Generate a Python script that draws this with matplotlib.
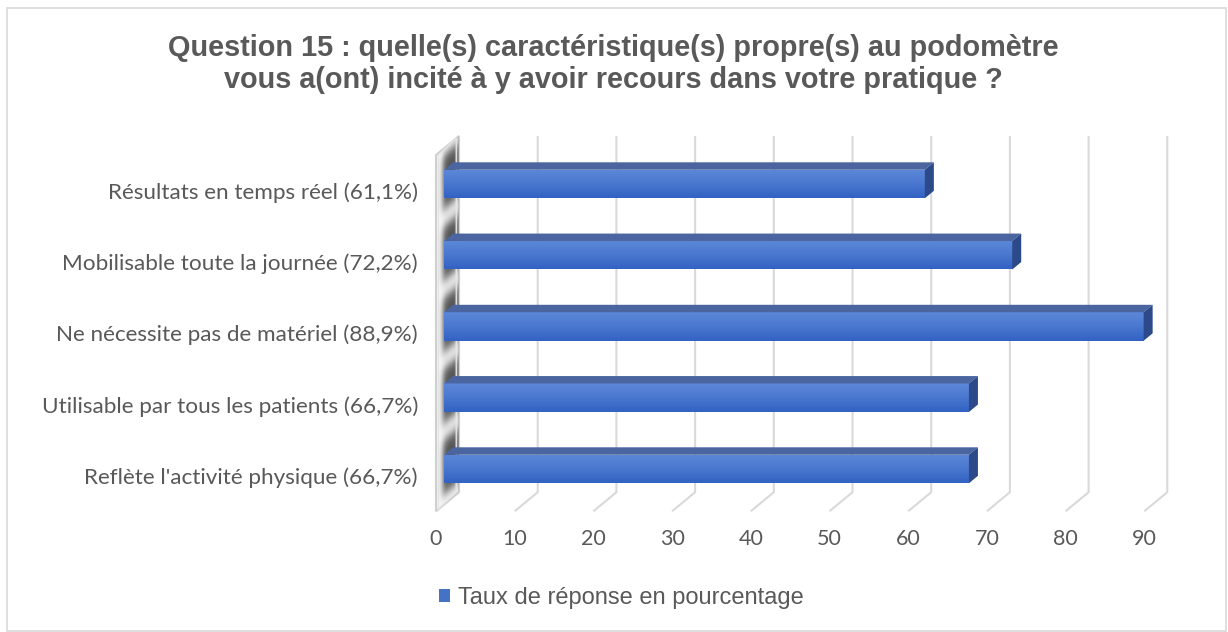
import numpy as np
import matplotlib.pyplot as plt
from matplotlib.patches import Polygon, Patch, Rectangle
from matplotlib.colors import LinearSegmentedColormap
from matplotlib.transforms import ScaledTranslation

# --- data ---
categories = [
    "Résultats en temps réel (61,1%)",
    "Mobilisable toute la journée (72,2%)",
    "Ne nécessite pas de matériel (88,9%)",
    "Utilisable par tous les patients (66,7%)",
    "Reflète l'activité physique (66,7%)",
]
values = [61.1, 72.2, 88.9, 66.7, 66.7]
xticks = [0, 10, 20, 30, 40, 50, 60, 70, 80, 90]
series_name = "Taux de réponse en pourcentage"
title = ("Question 15 : quelle(s) caractéristique(s) propre(s) au podomètre\n"
         "vous a(ont) incité à y avoir recours dans votre pratique ?")

TXT = '#595959'
GRID = '#d9d9d9'

W, H = 1228, 632
fig = plt.figure(figsize=(W / 100, H / 100), dpi=100)
fig.patch.set_facecolor('white')

# outer chart border
fig.patches.append(Rectangle((7 / W, 1 / H), 1219 / W, 623 / H, transform=fig.transFigure,
                             fill=False, edgecolor=GRID, lw=1.2))

# axes laid out so that data coords = back wall plane
px_x, px_y = 7.87, 71.25
x0_px, y0_px = 459, 171.6
left, right, top, bottom = 420, 1190, 120, 525
ax = fig.add_axes([left / W, 1 - bottom / H, (right - left) / W, (bottom - top) / H])
xlim = ((left - x0_px) / px_x, (right - x0_px) / px_x)
ylim = ((bottom - y0_px) / px_y, (top - y0_px) / px_y)

n = len(categories)
cats = np.arange(n)
# oblique depth of the floor (back -> front)
dxw, dyw = -23 / px_x, 19 / px_y
fb, ff = 6 / 23, 15 / 23          # bar back / front depth fraction
half = 0.2
ytop, ybot = -0.5, n - 0.5

# left wall
wall = Polygon([(0, ytop), (0, ybot), (dxw, ybot + dyw), (dxw, ytop + dyw)],
               closed=True, facecolor='#f8f8f8', edgecolor='#d0d0d0', lw=1.5, zorder=1)
ax.add_patch(wall)
inner = Polygon([(-0.35, ytop + 0.03), (-0.35, ybot), (dxw + 0.3, ybot + dyw - 0.03),
                 (dxw + 0.3, ytop + dyw)], closed=True, fill=False,
                edgecolor='#e4e4e4', lw=1.0, zorder=1.6)
ax.add_patch(inner)

# soft shadows of the bars on the wall
xs = np.linspace(dxw, 0, 80)
ys = np.linspace(ytop, ybot + dyw, 500)
X, Y = np.meshgrid(xs, ys)
f = X / dxw
yw = Y - dyw * f
inten = np.zeros_like(X)
for c in cats:
    sy = 0.5 * (np.tanh((yw - (c - half - 0.2)) / 0.1) - np.tanh((yw - (c + half + 0.16)) / 0.1))
    sx = 0.5 * (np.tanh((f - (fb - 0.25)) / 0.12) - np.tanh((f - (ff + 0.05)) / 0.14))
    inten += sy * sx
img = np.zeros(X.shape + (4,))
img[..., :3] = 0.2
img[..., 3] = np.clip(inten, 0, 1) * 0.85
sh = ax.imshow(img, extent=[xs[0], xs[-1], ys[-1], ys[0]], origin='upper',
               aspect='auto', zorder=1.5, interpolation='bilinear')
sh.set_clip_path(wall)

# back wall gridlines + floor lines
for v in xticks[1:]:
    ax.plot([v, v, v + dxw], [ytop, ybot, ybot + dyw], color=GRID, lw=1.5, zorder=0.5,
            solid_capstyle='butt')

# bars: front faces
fx, fy = ff * dxw, ff * dyw
bx, by = fb * dxw, fb * dyw
bars = ax.barh(cats + fy, values, left=fx, height=2 * half, color='#4472c4',
               edgecolor='none', zorder=3)
cmap = LinearSegmentedColormap.from_list('face', ['#5d88d9', '#4a78cf', '#3262c3'])
grad = np.linspace(0, 1, 64).reshape(-1, 1)
for rect in bars.patches:
    x0, y0 = rect.get_x(), rect.get_y()
    x1, y1 = x0 + rect.get_width(), y0 + rect.get_height()
    im = ax.imshow(grad, extent=[x0, x1, y1, y0], origin='upper', cmap=cmap,
                   aspect='auto', zorder=3.1)
    im.set_clip_path(rect)

for c, v in zip(cats, values):
    tf, bf = c + fy - half, c + fy + half
    tb, bb = c + by - half, c + by + half
    top_face = Polygon([(fx, tf), (fx + v, tf), (bx + v, tb), (bx, tb)],
                       facecolor='#4a65a0', edgecolor='none', zorder=3.2)
    side_face = Polygon([(fx + v, tf), (bx + v, tb), (bx + v, bb), (fx + v, bf)],
                        facecolor='#2c4a8a', edgecolor='none', zorder=3.2)
    ax.add_patch(top_face)
    ax.add_patch(side_face)

ax.set_xlim(*xlim)
ax.set_ylim(*ylim)

# ticks on the front floor edge
ax.set_xticks(xticks)
ax.set_xticklabels([str(t) for t in xticks])
ax.set_yticks(cats + dyw)
ax.set_yticklabels(categories)
ax.tick_params(axis='both', length=0, colors=TXT)
ax.tick_params(axis='x', pad=3, labelsize=15.5)
ax.tick_params(axis='y', pad=1.5, labelsize=16.2)
shift = ScaledTranslation(-23 / 100, 0, fig.dpi_scale_trans)
for lab in ax.get_xticklabels():
    lab.set_transform(lab.get_transform() + shift)
    lab.set_fontfamily('Lato')
for lab in ax.get_yticklabels():
    lab.set_fontfamily('Lato')
for s in ax.spines.values():
    s.set_visible(False)
ax.set_facecolor('none')

fig.text(613 / W, 1 - 64 / H, title, ha='center', va='center', fontsize=20.8,
         fontweight='bold', color=TXT, family='Liberation Sans', linespacing=1.2)

fig.legend(handles=[Patch(facecolor='#4472c4', edgecolor='none')], labels=[series_name],
           loc='center', bbox_to_anchor=(621 / W, 1 - 598 / H), frameon=False,
           handlelength=0.5, handleheight=0.5, handletextpad=0.3,
           prop={'family': 'Liberation Sans', 'size': 17}, labelcolor=TXT)

fig.savefig('out.png', dpi=100)
